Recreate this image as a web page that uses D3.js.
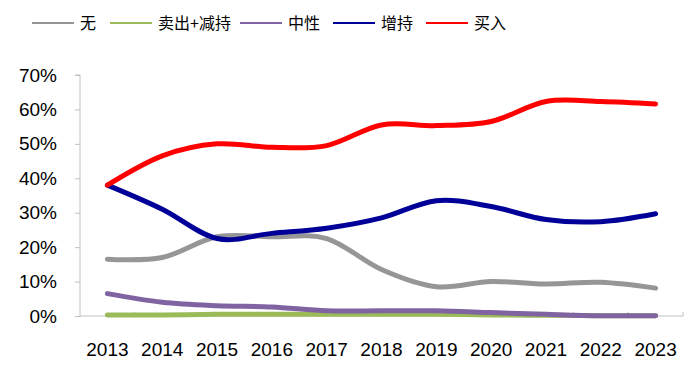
<!DOCTYPE html>
<html>
<head>
<meta charset="utf-8">
<script src="https://cdn.jsdelivr.net/npm/d3@7"></script>
<style>
  body { margin: 0; background: #fff; }
</style>
</head>
<body>
<div class="container"></div>
<script>
const years = ['2013', '2014', '2015', '2016', '2017', '2018', '2019', '2020', '2021', '2022', '2023'];
const seriesNames = ['无', '卖出+减持', '中性', '增持', '买入'];
const none = [16.5, 17, 23, 23, 22.5, 13.5, 8.5, 10, 9.3, 9.8, 8.1];
const sell = [0.3, 0.3, 0.5, 0.5, 0.5, 0.5, 0.5, 0.3, 0.2, 0.1, 0.1];
const neutral = [6.5, 4, 3, 2.6, 1.5, 1.5, 1.5, 1, 0.5, 0.1, 0.1];
const overweight = [38, 31, 22.5, 24, 25.5, 28.5, 33.5, 31.8, 28, 27.4, 29.7];
const buy = [38, 46.5, 50, 49, 49.5, 55.5, 55.3, 56.5, 62.3, 62.3, 61.6];
const yTicks = [0, 10, 20, 30, 40, 50, 60, 70];
const colors = ['#969696', '#9bbb59', '#8064a2', '#000099', '#ff0000'];

const width = 693;
const height = 372;
const margin = {left: 80, right: 10, top: 75, bottom: 56};

const svg = d3.select('.container')
    .append('svg')
    .attr('width', width)
    .attr('height', height);

const x = d3.scaleBand()
    .domain(years)
    .range([margin.left, 683]);

const y = d3.scaleLinear()
    .domain([0, 70])
    .range([316, margin.top]);

// y axis
const yAxis = svg.append('g')
    .attr('transform', `translate(${margin.left},0)`)
    .call(d3.axisLeft(y).tickValues(yTicks).tickSize(5).tickPadding(18).tickFormat(d => d + '%'));
yAxis.selectAll('line, path').attr('stroke', '#c0c0c0');
yAxis.select('.domain').attr('d', `M-5,${y(70)}H0V${y(0)}`);
yAxis.selectAll('text')
    .attr('font-family', 'Liberation Sans, Arial, sans-serif')
    .attr('font-size', 19)
    .attr('fill', '#000');

// x axis with ticks at band boundaries
const xAxis = svg.append('g')
    .attr('transform', `translate(0,${y(0)})`)
    .call(d3.axisBottom(x).tickSize(0).tickPadding(27));
xAxis.select('.domain').attr('stroke', '#c0c0c0').attr('d', `M${margin.left},0H683V-4`);
xAxis.selectAll('text')
    .attr('font-family', 'Liberation Sans, Arial, sans-serif')
    .attr('font-size', 19)
    .attr('fill', '#000');
xAxis.selectAll('.bound')
    .data(years.slice(1))
    .enter()
    .append('line')
    .attr('x1', d => x(d))
    .attr('x2', d => x(d))
    .attr('y1', 0)
    .attr('y2', -4)
    .attr('stroke', '#c0c0c0');

const allSeries = [none, sell, neutral, overweight, buy];

const line = d3.line()
    .x((d, i) => x(years[i]) + x.bandwidth() / 2)
    .y(d => y(d))
    .curve(d3.curveCatmullRom.alpha(0));

svg.append('g')
    .selectAll('path')
    .data(allSeries)
    .enter()
    .append('path')
    .attr('d', line)
    .attr('fill', 'none')
    .attr('stroke', (d, i) => colors[i])
    .attr('stroke-width', 5)
    .attr('stroke-linecap', 'round')
    .attr('stroke-linejoin', 'round');

// legend
const legendX = [32, 110, 240, 333, 426];
const legend = svg.append('g');
legend.selectAll('line')
    .data(seriesNames)
    .enter()
    .append('line')
    .attr('x1', (d, i) => legendX[i])
    .attr('x2', (d, i) => legendX[i] + 42)
    .attr('y1', 23)
    .attr('y2', 23)
    .attr('stroke', (d, i) => colors[i])
    .attr('stroke-width', 2);
legend.selectAll('text')
    .data(seriesNames)
    .enter()
    .append('text')
    .attr('x', (d, i) => legendX[i] + 48)
    .attr('y', 29)
    .attr('font-family', 'Noto Sans CJK SC, sans-serif')
    .attr('font-size', 16)
    .attr('fill', '#000')
    .text(d => d);
</script>
</body>
</html>
